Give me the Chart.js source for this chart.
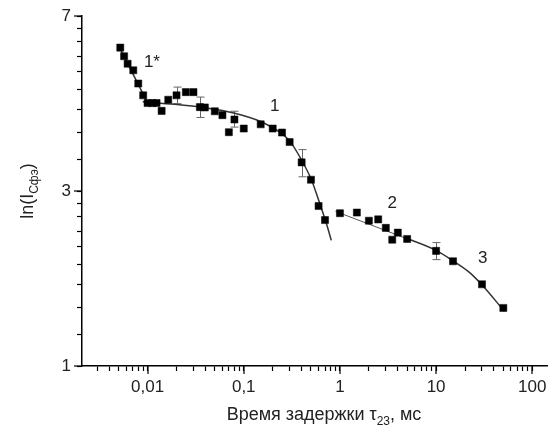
<!DOCTYPE html>
<html>
<head>
<meta charset="utf-8">
<script src="https://cdn.jsdelivr.net/npm/chart.js@4"></script>
<style>
  body { margin: 0; background: #fff; }
  canvas { display: block; }
</style>
</head>
<body>
<canvas id="chart" width="553" height="429"></canvas>
<script>
// ================= DATA =================
// branch 1* and 1 (delay in ms, ln I)
const time1 = [0.0052, 0.0057, 0.0062, 0.0071, 0.008, 0.009, 0.010, 0.0112, 0.0124, 0.014,
  0.0164, 0.020, 0.025, 0.030, 0.035, 0.0394, 0.050, 0.060, 0.080, 0.070,
  0.10, 0.15, 0.20, 0.25, 0.30, 0.40, 0.50, 0.60, 0.70]
const value1 = [7.38, 6.99, 6.67, 6.40, 5.89, 5.47, 5.21, 5.21, 5.21, 4.96,
  5.32, 5.47, 5.58, 5.58, 5.08, 5.07, 4.95, 4.83, 4.70, 4.34,
  4.44, 4.56, 4.44, 4.33, 4.08, 3.59, 3.22, 2.73, 2.50]

// branch 2 and 3
const time2 = [1.0, 1.5, 2.0, 2.5, 3.0, 4.0, 3.5, 5.0, 10, 15, 30, 50]
const value2 = [2.61, 2.62, 2.49, 2.51, 2.38, 2.31, 2.21, 2.22, 2.06, 1.93, 1.67, 1.44]

// fitted curves
const fit1sTime = [0.00497, 0.0101]
const fit1sValue = [7.49, 5.19]
const fit1Time = [0.0089, 0.0192, 0.0394, 0.0806, 0.147, 0.237, 0.300, 0.400, 0.508, 0.601, 0.705, 0.814]
const fit1Value = [5.25, 5.17, 5.06, 4.89, 4.65, 4.34, 4.11, 3.64, 3.21, 2.83, 2.50, 2.20]
const fit2Time = [0.90, 5.05]
const fit2Value = [2.64, 2.22]
const fit3Time = [4.70, 9.86, 14.8, 22.2, 29.6, 51.3]
const fit3Value = [2.24, 2.07, 1.94, 1.80, 1.67, 1.41]

// error bars
const errTime = [0.020, 0.035, 0.080, 0.40, 9.86]
const errLow = [5.19, 4.76, 4.48, 3.28, 1.95]
const errHigh = [5.76, 5.41, 4.95, 3.89, 2.17]

// curve labels
const noteText = ['1*', '1', '2', '3']
const noteTime = [0.0111, 0.21, 3.5, 30.5]
const noteValue = [6.73, 5.11, 2.78, 1.97]

// ticks
const xTicks = [0.01, 0.1, 1, 10, 100]
const xTickLabels = ['0,01', '0,1', '1', '10', '100']
const yTicks = [1, 3, 9]
const yTickLabels = ['1', '3', '7']

const FONT = 'Liberation Sans, Arial, sans-serif'
const TEXT = '#222'
const SIZE = 17
const TITLE = 18
const SUB = 12
const X_MIN = 0.00208, X_MAX = 144

const pts = (xs, ys) => xs.map((x, i) => ({ x: x, y: ys[i] }))

// all tick positions (major + minor)
const xAll = []
for (let e = -3; e <= 2; e++) {
  for (let m = 1; m <= 9; m++) {
    const v = m === 1 ? xTicks[e + 2] : m * Math.pow(10, e)
    if (v !== undefined && v >= X_MIN && v <= X_MAX) xAll.push(v)
  }
}
const yAll = []
for (let i = 0; i < yTicks.length - 1; i++) {
  const step = (yTicks[i + 1] - yTicks[i]) / 9
  yAll.push(yTicks[i])
  for (let k = 1; k < 9; k++) yAll.push(yTicks[i] + k * step)
}
yAll.push(yTicks[yTicks.length - 1])

function drawSub(ctx, parts, x, y) {
  let cx = x
  parts.forEach(([t, sub]) => {
    ctx.font = (sub ? SUB : TITLE) + 'px ' + FONT
    ctx.fillText(t, cx, sub ? y + 5 : y)
    cx += ctx.measureText(t).width
  })
}
function widthSub(ctx, parts) {
  let w = 0
  parts.forEach(([t, sub]) => {
    ctx.font = (sub ? SUB : TITLE) + 'px ' + FONT
    w += ctx.measureText(t).width
  })
  return w
}

const extras = {
  id: 'extras',
  beforeDatasetsDraw(chart) {
    const { ctx, scales } = chart
    const sx = scales.x, sy = scales.y
    ctx.save()
    ctx.strokeStyle = '#666'
    ctx.lineWidth = 1
    errTime.forEach((t, i) => {
      const px = Math.round(sx.getPixelForValue(t)) + 0.5
      const top = sy.getPixelForValue(errHigh[i])
      const bot = sy.getPixelForValue(errLow[i])
      ctx.beginPath()
      ctx.moveTo(px, top); ctx.lineTo(px, bot)
      ctx.moveTo(px - 4, top); ctx.lineTo(px + 4, top)
      ctx.moveTo(px - 4, bot); ctx.lineTo(px + 4, bot)
      ctx.stroke()
    })
    ctx.restore()
  },
  afterDraw(chart) {
    const { ctx, chartArea, scales } = chart
    const sx = scales.x, sy = scales.y
    ctx.save()
    // longer major tick marks
    ctx.fillStyle = '#000'
    xTicks.forEach(v => {
      const px = Math.round(sx.getPixelForValue(v))
      ctx.fillRect(px - 0.6, chartArea.bottom, 1.2, 8)
    })
    yTicks.forEach(v => {
      const py = Math.round(sy.getPixelForValue(v))
      ctx.fillRect(chartArea.left - 8, py - 0.6, 8, 1.2)
    })

    // curve labels
    ctx.fillStyle = TEXT
    ctx.font = SIZE + 'px ' + FONT
    ctx.textAlign = 'center'
    ctx.textBaseline = 'middle'
    noteText.forEach((t, i) => {
      ctx.fillText(t, sx.getPixelForValue(noteTime[i]), sy.getPixelForValue(noteValue[i]))
    })

    // axis titles
    ctx.textAlign = 'left'
    ctx.textBaseline = 'alphabetic'
    const xt = [['Время задержки τ', false], ['23', true], [', мс', false]]
    drawSub(ctx, xt, 324 - widthSub(ctx, xt) / 2, 420)

    const yt = [['ln(I', false], ['Сфэ', true], [')', false]]
    ctx.translate(33, (chartArea.top + chartArea.bottom) / 2)
    ctx.rotate(-Math.PI / 2)
    drawSub(ctx, yt, -widthSub(ctx, yt) / 2, 0)
    ctx.restore()
  }
}

const pointStyle = {
  showLine: false,
  pointStyle: 'rect',
  pointRadius: 5,
  backgroundColor: '#000',
  borderColor: '#000',
  borderWidth: 0.5
}
const lineStyle = {
  showLine: true,
  pointRadius: 0,
  borderColor: '#333',
  borderWidth: 1.5,
  cubicInterpolationMode: 'monotone',
  fill: false
}
const tickGrid = {
  display: true,
  drawOnChartArea: false,
  drawTicks: true,
  tickLength: 5,
  tickWidth: 1.2,
  tickColor: '#000'
}

new Chart(document.getElementById('chart'), {
  type: 'scatter',
  data: {
    datasets: [
      { ...pointStyle, label: '1', data: pts(time1, value1) },
      { ...pointStyle, label: '2', data: pts(time2, value2) },
      { ...lineStyle, label: 'fit 1*', data: pts(fit1sTime, fit1sValue) },
      { ...lineStyle, label: 'fit 1', data: pts(fit1Time, fit1Value) },
      { ...lineStyle, label: 'fit 2', data: pts(fit2Time, fit2Value), borderWidth: 1, borderColor: '#555' },
      { ...lineStyle, label: 'fit 3', data: pts(fit3Time, fit3Value) }
    ]
  },
  options: {
    responsive: false,
    animation: false,
    layout: { padding: { top: 16, right: 5, left: 0, bottom: 0 } },
    plugins: { legend: { display: false }, tooltip: { enabled: false } },
    scales: {
      x: {
        type: 'logarithmic',
        min: X_MIN,
        max: X_MAX,
        grid: tickGrid,
        border: { display: true, color: '#000', width: 1.5 },
        ticks: {
          color: TEXT,
          font: { family: FONT, size: SIZE },
          padding: 6,
          autoSkip: false,
          maxRotation: 0,
          callback: v => xTickLabels[xTicks.indexOf(v)] ?? ''
        },
        afterBuildTicks: s => { s.ticks = xAll.map(v => ({ value: v })) },
        afterFit: s => { s.height = 63; s.paddingLeft = 0; s.paddingRight = 0 }
      },
      y: {
        type: 'logarithmic',
        min: 1,
        max: 9,
        grid: tickGrid,
        border: { display: true, color: '#000', width: 1.5 },
        ticks: {
          color: TEXT,
          font: { family: FONT, size: SIZE },
          padding: 6,
          autoSkip: false,
          callback: v => yTickLabels[yTicks.indexOf(v)] ?? ''
        },
        afterBuildTicks: s => { s.ticks = yAll.map(v => ({ value: v })) },
        afterFit: s => { s.width = 82; s.paddingTop = 0; s.paddingBottom = 0 }
      }
    }
  },
  plugins: [extras]
})
</script>
</body>
</html>
